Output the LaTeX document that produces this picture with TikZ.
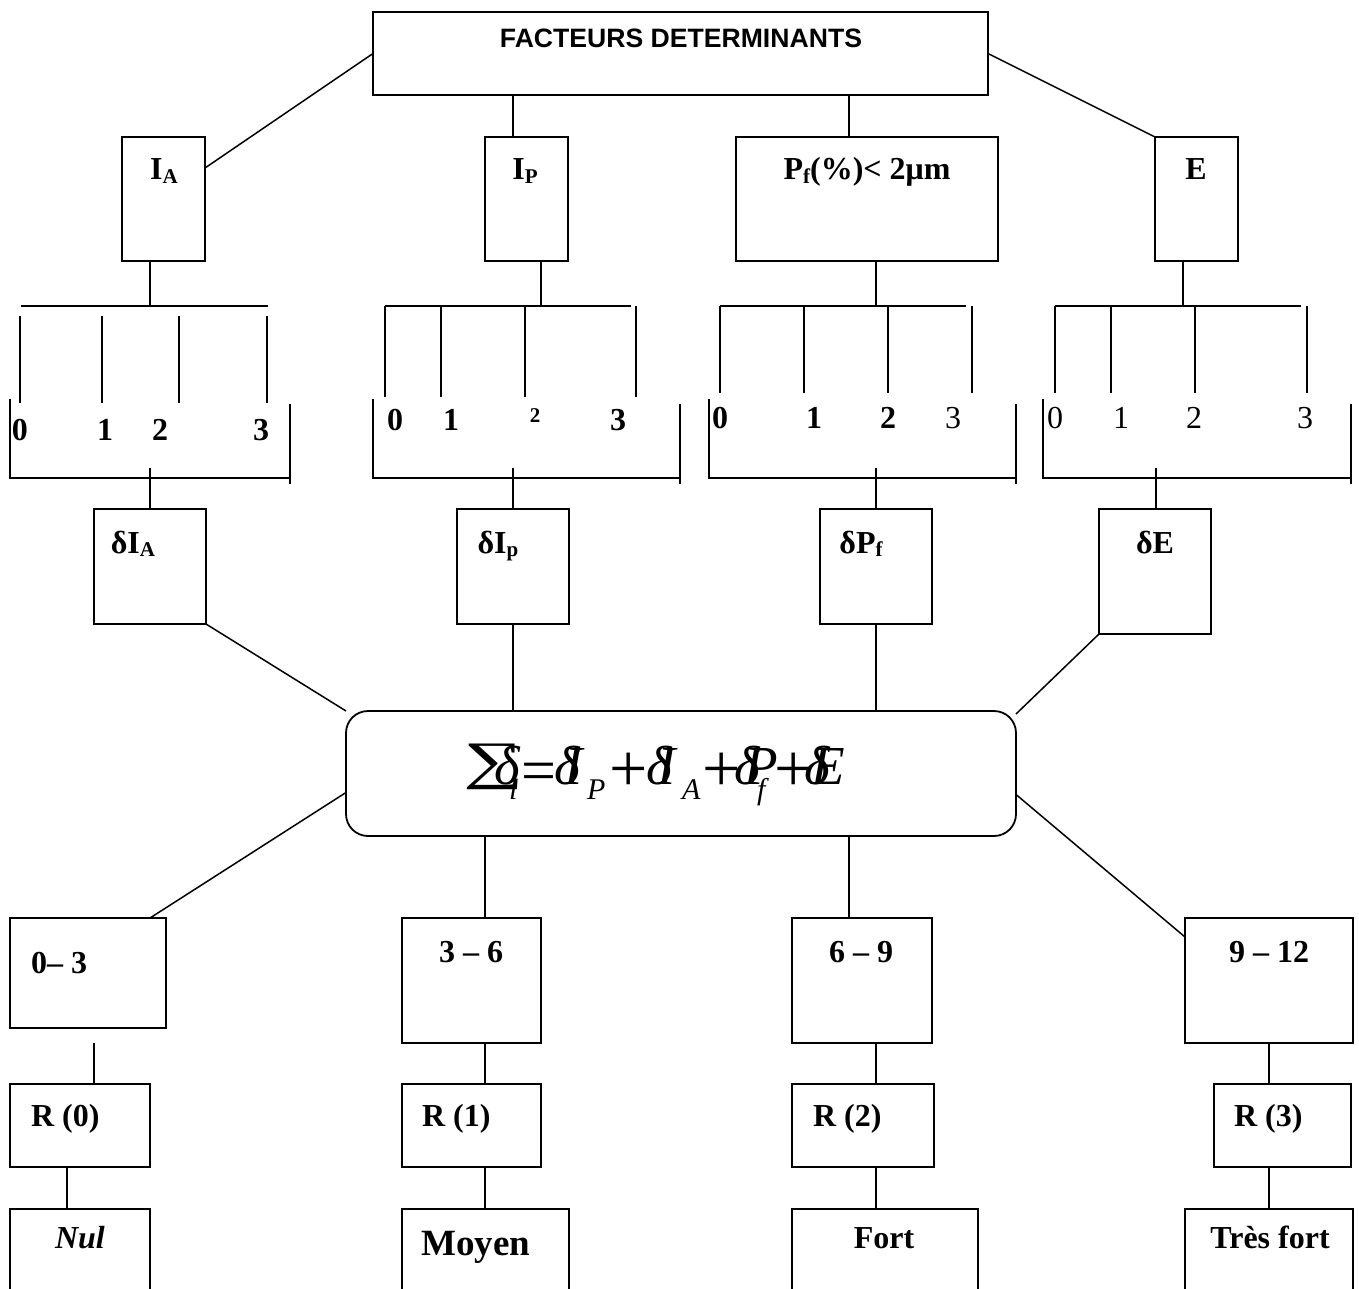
\documentclass[tikz,border=0pt]{standalone}
\usepackage{fontspec}
\setmainfont{Liberation Serif}
\newfontfamily\arialf{Liberation Sans}
\usetikzlibrary{fit}
\newcommand\lblfont{\fontsize{32}{36}\selectfont\bfseries}
\newcommand\regfont{\fontsize{32}{36}\selectfont}
\newcommand\mysub[1]{\raisebox{-0.10em}{\fontsize{21}{23}\selectfont #1}}
\newcommand\fput[2]{\rlap{\kern#1pt#2}}
\newcommand\fsub[1]{\raisebox{-15pt}{\fontsize{30}{32}\selectfont\itshape #1}}
\newcommand\fop[1]{\raisebox{-7pt}{\fontsize{62}{64}\selectfont\upshape #1}}
\newcommand\fplus{\raisebox{-7pt}{\fontsize{68}{70}\selectfont\upshape +}}
\newcommand\fsum{\raisebox{6pt}{\scalebox{1.37}[0.85]{\fontsize{62}{64}\selectfont\upshape ∑}}}
\tikzset{
  box/.style={draw, line width=1.8pt, inner sep=0pt, outer sep=0pt, rectangle},
  conn/.style={line width=1.5pt},
  lbl/.style={inner sep=0pt, outer sep=0pt, anchor=base, font=\lblfont},
  lblw/.style={lbl, anchor=base west},
  reg/.style={lbl, font=\regfont},
}
\begin{document}
\begin{tikzpicture}[x=1pt, y=-1pt]
\useasboundingbox (0,0) rectangle (1359,1289);
\fill[white] (0,0) rectangle (1359,1289);
\clip (0,0) rectangle (1359,1289);

% ---------- boxes ----------
\node[box, fit={(373,12) (988,95)}] (top) {};
\node[box, fit={(122,137) (205,261)}] (ia) {};
\node[box, fit={(485,137) (568,261)}] (ip) {};
\node[box, fit={(736,137) (998,261)}] (pf) {};
\node[box, fit={(1155,137) (1238,261)}] (e) {};

\node[box, fit={(94,509) (206,624)}] (dia) {};
\node[box, fit={(457,509) (569,624)}] (dip) {};
\node[box, fit={(820,509) (932,624)}] (dpf) {};
\node[box, fit={(1099,509) (1211,634)}] (de) {};

\node[box, rounded corners=22pt, fit={(346,711) (1016,836)}] (sum) {};

\node[box, fit={(10,918) (166,1028)}] (r03) {};
\node[box, fit={(402,918) (541,1043)}] (r36) {};
\node[box, fit={(792,918) (932,1043)}] (r69) {};
\node[box, fit={(1185,918) (1353,1043)}] (r912) {};

\node[box, fit={(10,1084) (150,1167)}] (R0) {};
\node[box, fit={(402,1084) (541,1167)}] (R1) {};
\node[box, fit={(792,1084) (934,1167)}] (R2) {};
\node[box, fit={(1214,1084) (1351,1167)}] (R3) {};

\node[box, fit={(10,1209) (150,1330)}] (nul) {};
\node[box, fit={(402,1209) (569,1330)}] (moy) {};
\node[box, fit={(792,1209) (978,1330)}] (fort) {};
\node[box, fit={(1185,1209) (1353,1330)}] (tres) {};

% ---------- labels ----------
\node[lbl, font=\fontsize{26.6}{30}\selectfont\arialf\bfseries] (ttop) at (681,48) {FACTEURS DETERMINANTS};
\node[lbl] (tia) at (164,180) {I\mysub{A}};
\node[lbl] (tip) at (525,180) {I\mysub{P}};
\node[lbl] (tpf) at (867,180) {P\mysub{f}(\%)< 2μm};
\node[lbl] (te) at (1196,180) {E};

% digits
\node[lbl] (g1a) at (20,440) {0};
\node[lbl] (g1b) at (105,440) {1};
\node[lbl] (g1c) at (160,440) {2};
\node[lbl] (g1d) at (261,440) {3};
\node[lbl] (g2a) at (395,430) {0};
\node[lbl] (g2b) at (451,430) {1};
\node[lbl, font=\fontsize{21}{23}\selectfont\bfseries] (g2c) at (535,422) {2};
\node[lbl] (g2d) at (618,430) {3};
\node[lbl] (g3a) at (720,428) {0};
\node[lbl] (g3b) at (814,428) {1};
\node[lbl] (g3c) at (888,428) {2};
\node[reg] (g3d) at (953,428) {3};
\node[reg] (g4a) at (1055,428) {0};
\node[reg] (g4b) at (1121,428) {1};
\node[reg] (g4c) at (1194,428) {2};
\node[reg] (g4d) at (1305,428) {3};

\node[lbl] (tdia) at (133,553) {δI\mysub{A}};
\node[lbl] (tdip) at (498,553) {δI\mysub{p}};
\node[lbl] (tdpf) at (861,553) {δP\mysub{f}};
\node[lbl] (tde) at (1155,553) {δE};

\node[inner sep=0pt, outer sep=0pt, anchor=base west, font=\fontsize{55}{58}\selectfont\itshape] (formula) at (463,784)
{\hbox to 393pt{%
\fput{0}{\fsum}%
\fput{31}{δ}\fput{46}{\fsub{i}}%
\fput{58}{\fop{=}}%
\fput{91}{δ}\fput{101}{I}\fput{124}{\fsub{P}}%
\fput{146}{\fplus}%
\fput{183}{δ}\fput{194}{I}\fput{219}{\fsub{A}}%
\fput{239}{\fplus}%
\fput{271}{δ}\fput{281}{P}\fput{294}{\fsub{f}}%
\fput{311}{\fplus}%
\fput{341}{δ}\fput{348}{E}%
\hfil}};

\node[lblw] (t03) at (31,973) {0– 3};
\node[lbl] (t36) at (471,962) {3 – 6};
\node[lbl] (t69) at (861,962) {6 – 9};
\node[lbl] (t912) at (1269,962) {9 – 12};

\node[lblw] (tR0) at (31,1126) {R (0)};
\node[lblw] (tR1) at (422,1126) {R (1)};
\node[lblw] (tR2) at (813,1126) {R (2)};
\node[lblw] (tR3) at (1234,1126) {R (3)};

\node[lbl, font=\lblfont\itshape] (tnul) at (80,1248) {Nul};
\node[lbl, font=\fontsize{37}{40}\selectfont\bfseries] (tmoy) at (476,1255) {Moyen};
\node[lbl] (tfort) at (884,1248) {Fort};
\node[lbl] (ttres) at (1270,1248) {Très fort};

% ---------- combs and brackets ----------
\coordinate (c1) at (150,306);
\coordinate (c2) at (541,306);
\coordinate (c3) at (876,306);
\coordinate (c4) at (1183,306);

\begin{scope}[conn]
% group 1
\draw (21,306) -- (268,306);
\foreach \x in {20,102,179,267} \draw (\x,316) -- (\x,403);
\draw (10,399) -- (10,478) -- (290,478);
\draw (290,404) -- (290,484);
% group 2
\draw (385,306) -- (631,306);
\foreach \x in {385,441,525} \draw (\x,306) -- (\x,397);
\draw (636,306) -- (636,397);
\draw (373,399) -- (373,478) -- (680,478);
\draw (680,404) -- (680,484);
% group 3
\draw (720,306) -- (966,306);
\foreach \x in {720,804,888} \draw (\x,306) -- (\x,393);
\draw (972,306) -- (972,393);
\draw (709,399) -- (709,478) -- (1016,478);
\draw (1016,404) -- (1016,484);
% group 4
\draw (1055,306) -- (1301,306);
\foreach \x in {1055,1111,1195} \draw (\x,306) -- (\x,393);
\draw (1307,306) -- (1307,393);
\draw (1043,399) -- (1043,478) -- (1351,478);
\draw (1351,404) -- (1351,484);
\end{scope}

% ---------- connectors ----------
\begin{scope}[conn]
\draw (top.west) -- ([yshift=-31pt]ia.north east);
\draw ([xshift=-13.5pt]ip.north) -- ([xshift=-13.5pt]ip.north |- top.south);
\draw ([xshift=-18pt]pf.north) -- ([xshift=-18pt]pf.north |- top.south);
\draw (top.east) -- (e.north west);

\draw (ia.south -| c1) -- (c1);
\draw (ip.south -| c2) -- (c2);
\draw (pf.south -| c3) -- (c3);
\draw (e.south -| c4) -- (c4);

\draw (dia.north) -- ++(0,-41);
\draw (dip.north) -- ++(0,-41);
\draw (dpf.north) -- ++(0,-41);
\draw ([xshift=1pt]de.north) -- ++(0,-41);

\draw (dia.south east) -- (sum.north west);
\draw (dip.south) -- (dip.south |- sum.north);
\draw (dpf.south) -- (dpf.south |- sum.north);
\draw (de.south west) -- ([yshift=-3pt]sum.north east);

\draw ([yshift=-19pt]sum.west) -- ([xshift=-16pt]r03.north east);
\draw ([xshift=13.5pt]r36.north) -- ([xshift=13.5pt]r36.north |- sum.south);
\draw ([xshift=-13pt]r69.north) -- ([xshift=-13pt]r69.north |- sum.south);
\draw ([yshift=-21pt]sum.east) -- ([yshift=-19pt]r912.north west);

\draw ([xshift=14pt]R0.north) -- ++(0,-41);
\draw ([xshift=13.5pt]r36.south) -- ([xshift=13.5pt]r36.south |- R1.north);
\draw ([xshift=14pt]r69.south) -- ([xshift=14pt]r69.south |- R2.north);
\draw (r912.south) -- (r912.south |- R3.north);

\draw ([xshift=-13pt]R0.south) -- ([xshift=-13pt]R0.south |- nul.north);
\draw ([xshift=13.5pt]R1.south) -- ([xshift=13.5pt]R1.south |- moy.north);
\draw ([xshift=13pt]R2.south) -- ([xshift=13pt]R2.south |- fort.north);
\draw (tres.north |- R3.south) -- (tres.north);
\end{scope}
\end{tikzpicture}
\end{document}
